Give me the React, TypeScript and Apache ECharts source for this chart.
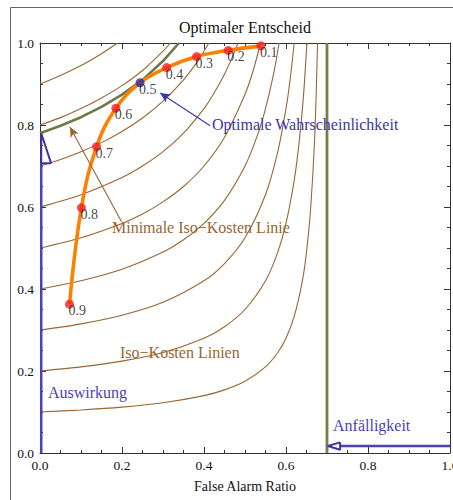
import React, { useEffect, useRef } from "react";
import * as echarts from "echarts";

// Iso-cost curves (False Alarm Ratio, Probability of detection)
const iso01 = [[0, 0.1], [0.1, 0.105], [0.2, 0.112], [0.3, 0.1225], [0.4, 0.14], [0.45, 0.154], [0.5, 0.175], [0.55, 0.21], [0.58, 0.245], [0.6, 0.28], [0.62, 0.333], [0.64, 0.42], [0.65, 0.49], [0.66, 0.595], [0.67, 0.77], [0.677, 1.0]];
const iso02 = [[0, 0.2], [0.1, 0.21], [0.2, 0.224], [0.3, 0.245], [0.4, 0.28], [0.45, 0.308], [0.5, 0.35], [0.55, 0.42], [0.58, 0.49], [0.6, 0.56], [0.62, 0.665], [0.63, 0.74], [0.64, 0.84], [0.645, 0.904], [0.651, 1.0]];
const iso03 = [[0, 0.3], [0.1, 0.315], [0.2, 0.336], [0.3, 0.3675], [0.4, 0.42], [0.45, 0.462], [0.5, 0.525], [0.55, 0.63], [0.58, 0.735], [0.6, 0.84], [0.61, 0.91], [0.62, 1.0]];
const iso04 = [[0, 0.4], [0.1, 0.42], [0.2, 0.448], [0.3, 0.49], [0.35, 0.52], [0.4, 0.56], [0.45, 0.616], [0.5, 0.7], [0.53, 0.774], [0.55, 0.84], [0.57, 0.926], [0.583, 1.0]];
const iso05 = [[0, 0.5], [0.1, 0.525], [0.2, 0.56], [0.25, 0.583], [0.3, 0.6125], [0.35, 0.65], [0.4, 0.7], [0.45, 0.77], [0.5, 0.875], [0.52, 0.933], [0.538, 1.0]];
const iso06 = [[0, 0.6], [0.1, 0.63], [0.2, 0.672], [0.25, 0.7], [0.3, 0.735], [0.35, 0.78], [0.4, 0.84], [0.42, 0.87], [0.45, 0.924], [0.47, 0.968], [0.483, 1.0]];
const iso07 = [[0, 0.7], [0.05, 0.716], [0.1, 0.735], [0.15, 0.757], [0.2, 0.784], [0.25, 0.817], [0.3, 0.858], [0.35, 0.91], [0.38, 0.949], [0.4, 0.98], [0.412, 1.0]];
const iso08 = [[0, 0.8], [0.05, 0.818], [0.1, 0.84], [0.15, 0.866], [0.2, 0.896], [0.25, 0.933], [0.3, 0.98], [0.318, 1.0]];
const iso09 = [[0, 0.9], [0.05, 0.921], [0.1, 0.945], [0.15, 0.974], [0.189, 1.0]];
const isoCurves = [iso01, iso02, iso03, iso04, iso05, iso06, iso07, iso08, iso09];

// Minimal iso-cost line (tangent to the decision curve)
const minIsoCurve = [[0, 0.78], [0.05, 0.798], [0.1, 0.819], [0.15, 0.844], [0.2, 0.874], [0.25, 0.91], [0.3, 0.956], [0.339, 1.0]];

// Vulnerability limit (Anfälligkeit)
const vulnerabilityLine = [[0.7, 0], [0.7, 1]];

// Decision curve with probability thresholds
const rocFar = [0.072, 0.101, 0.138, 0.185, 0.244, 0.309, 0.382, 0.459, 0.539];
const rocPod = [0.363, 0.598, 0.747, 0.841, 0.903, 0.94, 0.967, 0.982, 0.993];
const thresholds = ["0.9", "0.8", "0.7", "0.6", "0.5", "0.4", "0.3", "0.2", "0.1"];
const optimumIndex = 4;

// Annotation arrows (data coordinates)
const impactShaft = [[0.003, 0], [0.003, 0.707]];
const impactHead = [[0.003, 0.78], [0.027, 0.707], [0.003, 0.707], [0.003, 0.78]];
const vulnShaft = [[0.732, 0.017], [1.0, 0.017]];
const vulnHead = [[0.732, 0.026], [0.702, 0.017], [0.732, 0.008], [0.732, 0.026]];
const optArrow = [[0.415, 0.798], [0.293, 0.878]];
const minArrow = [[0.199, 0.564], [0.073, 0.795]];

const SERIF = "'Liberation Serif', 'Times New Roman', serif";
const BROWN = "#996633";
const OLIVE = "#6b7a48";
const OLIVE2 = "#7a7c4e";
const BLUE = "#3d36a3";
const BLUE2 = "#4a44b2";

function axis(position: string, showLabel: boolean, isX: boolean) {
  return {
    type: "value",
    position,
    min: 0,
    max: 1,
    interval: 0.2,
    axisLine: { show: true, onZero: false, lineStyle: { color: "#333", width: 1 } },
    axisTick: { show: true, inside: true, length: 6, lineStyle: { color: "#333", width: 1 } },
    minorTick: { show: true, splitNumber: 4, length: 3, lineStyle: { color: "#333", width: 1 } },
    splitLine: { show: false },
    minorSplitLine: { show: false },
    axisLabel: {
      show: showLabel,
      showMinLabel: true,
      showMaxLabel: true,
      hideOverlap: false,
      color: "#111",
      fontFamily: SERIF,
      fontSize: 13.5,
      margin: isX ? 5 : 6,
      formatter: (v: number) => v.toFixed(1),
    },
  };
}

export default function App() {
  const ref = useRef<HTMLDivElement>(null);
  useEffect(() => {
    document.body.style.margin = "0";
    if (!ref.current) return;
    const chart = echarts.init(ref.current, undefined, { renderer: "svg" });

    const brownSeries = isoCurves.map((c, i) => ({
      type: "line",
      name: "iso" + i,
      data: c,
      smooth: 0.3,
      showSymbol: false,
      silent: true,
      z: 2,
      lineStyle: { color: BROWN, width: 1.1 },
    }));

    const rocData = rocFar.map((x, i) => [x, rocPod[i]]);
    const pointData = rocFar.map((x, i) => ({
      value: [x, rocPod[i]],
      itemStyle: { color: i === optimumIndex ? "#2f2c9a" : "#f42020" },
    }));

    const lineSeries = (data: number[][], color: string, width: number, z: number) => ({
      type: "line",
      data,
      showSymbol: false,
      silent: true,
      z,
      lineStyle: { color, width },
    });

    const arrowItem = (pts: number[][], color: string) => [
      { coord: pts[0], lineStyle: { color, width: 1.1, type: "solid" } },
      { coord: pts[1] },
    ];

    const option: any = {
      animation: false,
      textStyle: { fontFamily: SERIF },
      grid: { left: 40, top: 43, width: 410, height: 410, containLabel: false, outerBoundsMode: "none" },
      xAxis: [
        {
          ...axis("bottom", true, true),
          name: "False Alarm Ratio",
          nameLocation: "middle",
          nameGap: 26,
          nameTextStyle: { color: "#111", fontFamily: SERIF, fontSize: 14 },
        },
        axis("top", false, true),
      ],
      yAxis: [axis("left", true, false), axis("right", false, false)],
      series: [
        ...brownSeries,
        lineSeries(minIsoCurve, OLIVE, 2.6, 3),
        lineSeries(vulnerabilityLine, OLIVE2, 2.8, 3),
        { ...lineSeries(rocData, "#ff8000", 3.6, 4), smooth: 0.4 },
        {
          type: "scatter",
          data: pointData,
          symbolSize: 9,
          silent: true,
          z: 5,
          label: {
            show: true,
            position: [3.5, 11],
            align: "left",
            verticalAlign: "middle",
            color: "#111",
            fontFamily: SERIF,
            fontSize: 14,
            formatter: (p: any) => thresholds[p.dataIndex],
          },
        },
        lineSeries(impactShaft, BLUE2, 2.5, 6),
        lineSeries(impactHead, BLUE, 2, 6),
        lineSeries(vulnShaft, BLUE2, 2.5, 6),
        { ...lineSeries(vulnHead, BLUE, 2, 7), areaStyle: undefined },
        {
          type: "line",
          data: [],
          silent: true,
          z: 6,
          markLine: {
            silent: true,
            animation: false,
            symbol: ["none", "arrow"],
            symbolSize: [7, 10],
            label: { show: false },
            emphasis: { disabled: true },
            data: [arrowItem(optArrow, BLUE), arrowItem(minArrow, BROWN)],
          },
        },
      ],
      graphic: [
        {
          type: "rect",
          shape: { x: 10.5, y: 7.5, width: 470, height: 520 },
          style: { fill: "none", stroke: "#666", lineWidth: 1 },
          silent: true,
        },
        ...[
          { t: "Optimaler Entscheid", x: 245, y: 27, c: "#111", a: "center" },
          { t: "Optimale Wahrscheinlichkeit", x: 212, y: 124.5, c: BLUE, a: "left" },
          { t: "Minimale Iso\u2212Kosten Linie", x: 112, y: 227, c: BROWN, a: "left" },
          { t: "Iso\u2212Kosten Linien", x: 120, y: 352, c: BROWN, a: "left" },
          { t: "Auswirkung", x: 48, y: 392.5, c: BLUE2, a: "left" },
          { t: "Anf\u00e4lligkeit", x: 333, y: 425, c: BLUE2, a: "left" },
        ].map((d) => ({
          type: "text",
          x: d.x,
          y: d.y,
          silent: true,
          z: 10,
          style: {
            text: d.t,
            fill: d.c,
            fontSize: 16,
            fontFamily: SERIF,
            align: d.a,
            verticalAlign: "middle",
            textAlign: d.a,
            textVerticalAlign: "middle",
          },
        })),
      ],
    };
    chart.setOption(option);
    return () => chart.dispose();
  }, []);
  return <div ref={ref} style={{ width: 453, height: 500 }} />;
}
